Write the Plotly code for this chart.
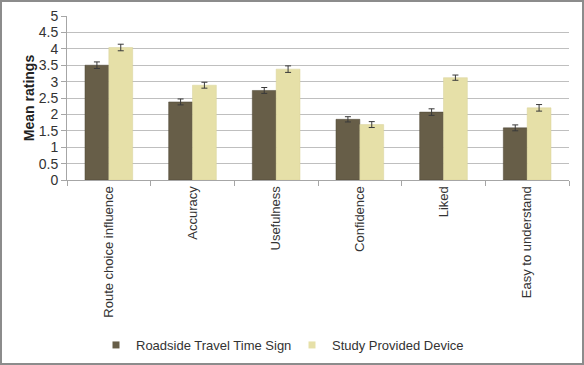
import plotly.graph_objects as go

categories = ["Route choice influence", "Accuracy", "Usefulness", "Confidence", "Liked", "Easy to understand"]
roadside = [3.50, 2.38, 2.73, 1.85, 2.07, 1.59]
roadside_err = [0.10, 0.09, 0.09, 0.08, 0.10, 0.09]
device = [4.04, 2.89, 3.38, 1.69, 3.12, 2.20]
device_err = [0.10, 0.09, 0.10, 0.09, 0.08, 0.10]
y_ticks = [0, 0.5, 1, 1.5, 2, 2.5, 3, 3.5, 4, 4.5, 5]
series_names = ["Roadside Travel Time Sign", "Study Provided Device"]
series_colors = ["#675E48", "#E6E0A8"]

W, H = 584, 365
ml, mr, mt, mb = 67, 15, 16, 185

fig = go.Figure()
fig.add_trace(go.Bar(
    name=series_names[0], x=categories, y=roadside, showlegend=False,
    marker=dict(color=series_colors[0], line=dict(color="#4d4635", width=0.5)),
    error_y=dict(type="data", array=roadside_err, color="#3a3a3a", thickness=1, width=3),
))
fig.add_trace(go.Bar(
    name=series_names[1], x=categories, y=device, showlegend=False,
    marker=dict(color=series_colors[1], line=dict(color="#d8d29a", width=0.5)),
    error_y=dict(type="data", array=device_err, color="#3a3a3a", thickness=1, width=3),
))
for n, c in zip(series_names, series_colors):
    fig.add_trace(go.Scatter(x=[None], y=[None], mode="markers", name=n,
                             marker=dict(symbol="square", size=7, color=c)))

pw = W - ml - mr
ph = H - mt - mb
fig.add_shape(type="rect", xref="paper", yref="paper",
              x0=-(ml - 1) / pw, x1=1 + (mr - 1) / pw,
              y0=-(mb - 1) / ph, y1=1 + (mt - 1) / ph,
              line=dict(color="#8c8c8c", width=2), layer="below")

fig.update_layout(
    width=W, height=H,
    margin=dict(l=ml, r=mr, t=mt, b=mb, pad=0, autoexpand=False),
    paper_bgcolor="white", plot_bgcolor="white",
    barmode="group", bargap=0.43, bargroupgap=0.0,
    font=dict(family="Liberation Sans, Arial, sans-serif", color="#333333"),
    showlegend=True,
    legend=dict(orientation="h", x=96 / W, xanchor="left", xref="container", yref="container",
                y=1 - 345 / H, yanchor="middle", font=dict(size=13, color="#333333"),
                itemwidth=30, entrywidth=151, bgcolor="rgba(0,0,0,0)"),
    xaxis=dict(
        tickangle=-90, tickfont=dict(size=13, color="#333333"), automargin=False,
        showline=True, linecolor="#a6a6a6", linewidth=1,
        ticks="outside", tickson="boundaries", ticklen=5, tickcolor="#a6a6a6",
        showgrid=False, range=[-0.5, 5.5],
    ),
    yaxis=dict(
        range=[0, 5], tickvals=y_ticks, ticktext=[f"{v:g}" for v in y_ticks],
        tickfont=dict(size=14, color="#333333"), automargin=False,
        showline=True, linecolor="#a6a6a6", linewidth=1,
        ticks="outside", ticklen=5, tickcolor="#a6a6a6",
        showgrid=True, gridcolor="#bfbfbf", gridwidth=1,
        title=dict(text="<b>Mean ratings</b>", font=dict(size=14, color="#222222"), standoff=0),
        zeroline=False,
    ),
)

fig.write_html("out.html", config={"displayModeBar": False},
               post_script="document.body.style.margin='0';")
